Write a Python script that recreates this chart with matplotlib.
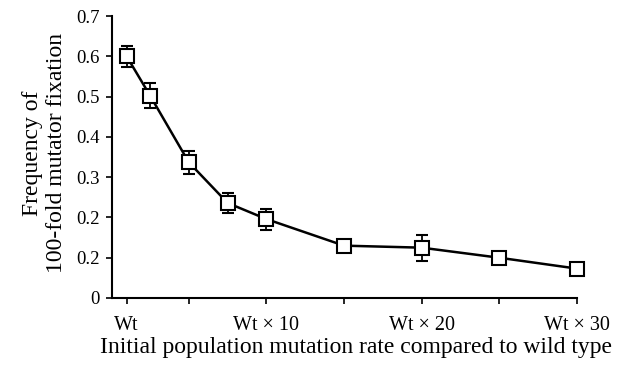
import matplotlib
matplotlib.use("Agg")
import matplotlib.pyplot as plt

# data
x_vals = [1, 2.5, 5, 7.5, 10, 15, 20, 25, 30]
freq = [0.600, 0.503, 0.337, 0.236, 0.196, 0.130, 0.125, 0.100, 0.073]
err = [0.027, 0.032, 0.028, 0.025, 0.026, 0.010, 0.032, 0.013, 0.008]
x_ticks = [1, 5, 10, 15, 20, 25, 30]
x_ticklabels = ["Wt", "", "Wt \u00d7 10", "", "Wt \u00d7 20", "", "Wt \u00d7 30"]
y_ticks = [0, 0.1, 0.2, 0.3, 0.4, 0.5, 0.6, 0.7]
y_ticklabels = ["0", "0.2", "0.2", "0.3", "0.4", "0.5", "0.6", "0.7"]

plt.rcParams["font.family"] = ["Liberation Serif", "DejaVu Serif"]

fig = plt.figure(figsize=(6.23, 3.65), dpi=100)
ax = fig.add_axes([0.18, 0.1836, 0.746, 0.772])

ax.errorbar(x_vals, freq, yerr=err, color="black", lw=1.8, marker="s",
            markersize=10.5, markerfacecolor="white", markeredgecolor="black",
            markeredgewidth=1.5, ecolor="black", elinewidth=1.3, capsize=4,
            capthick=1.3, clip_on=False, zorder=3)

ax.set_xlim(0.06, 30)
ax.set_ylim(0, 0.7)
ax.set_xticks(x_ticks)
ax.set_xticklabels(x_ticklabels, fontsize=14.5)
ax.set_yticks(y_ticks)
ax.set_yticklabels(y_ticklabels, fontsize=13.5)
ax.tick_params(axis="both", direction="out", length=4, width=1.2)
ax.tick_params(axis="y", pad=5)
ax.tick_params(axis="x", pad=9)

for s in ["top", "right"]:
    ax.spines[s].set_visible(False)
for s in ["left", "bottom"]:
    ax.spines[s].set_linewidth(1.5)

ax.set_xlabel("Initial population mutation rate compared to wild type", fontsize=17)
ax.xaxis.set_label_coords(0.525, -0.138)
ax.set_ylabel("Frequency of\n100-fold mutator fixation", fontsize=17, linespacing=1.2)
ax.yaxis.set_label_coords(-0.097, 0.515)

fig.savefig("out.png", dpi=100)
